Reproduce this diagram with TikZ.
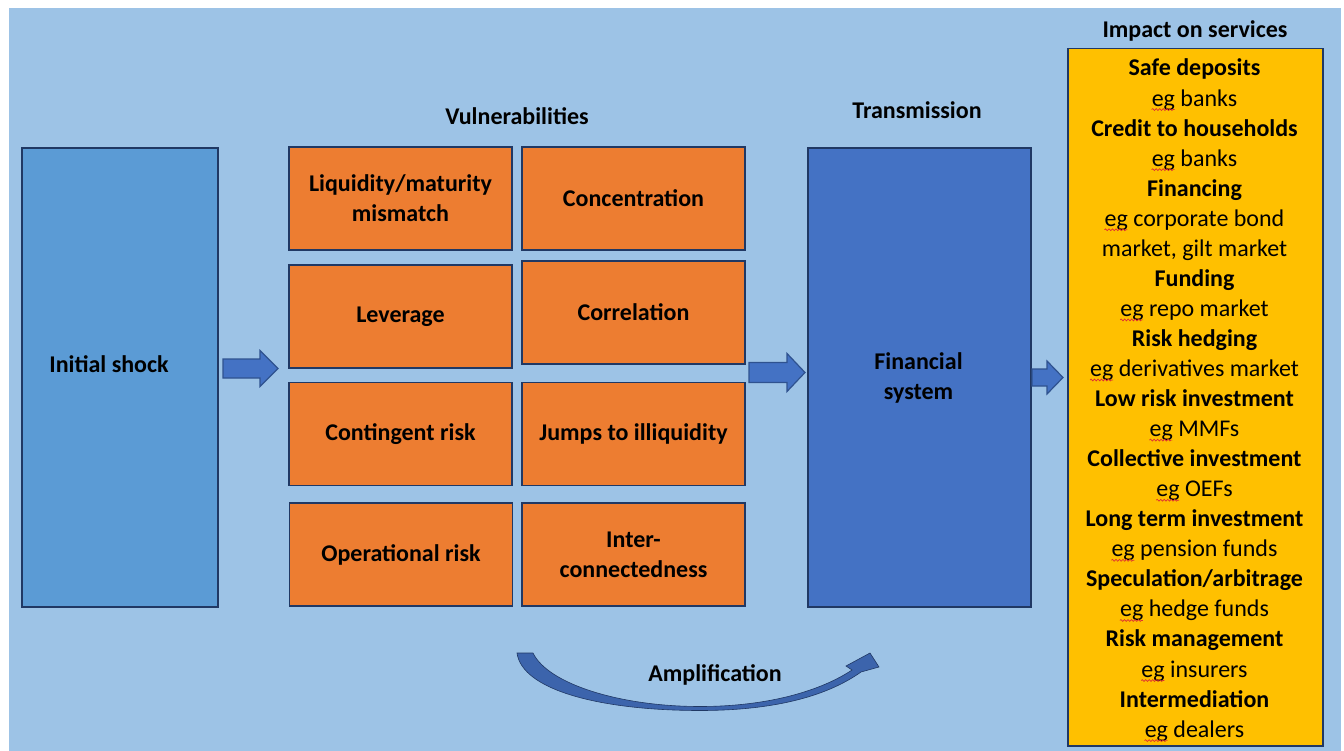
\documentclass[tikz,border=0pt]{standalone}
\usepackage{fontspec}
\setmainfont{Carlito}
\usetikzlibrary{decorations.pathmorphing}

\definecolor{bgblue}{HTML}{9DC3E6}
\definecolor{shockblue}{HTML}{5B9BD5}
\definecolor{vulnorange}{HTML}{ED7D31}
\definecolor{sysblue}{HTML}{4472C4}
\definecolor{svcgold}{HTML}{FFC000}
\definecolor{edgenavy}{HTML}{203864}
\definecolor{arrowedge}{HTML}{2F528F}
\definecolor{squigred}{HTML}{E03030}

\tikzset{
  txt/.style={font=\fontsize{24}{30}\selectfont},
  bold/.style={font=\fontsize{24}{30}\selectfont\bfseries},
  bigbox/.style={draw=edgenavy, line width=2pt, inner sep=0pt},
  vbox/.style={draw=edgenavy, line width=1.5pt, fill=vulnorange, inner sep=0pt,
    align=center, bold, minimum width=223pt, minimum height=103pt},
  blockarrow/.style={draw=arrowedge, line width=1.2pt, fill=sysblue, line join=miter},
  svc/.style={bold, anchor=base, inner sep=0pt},
  ex/.style={txt, anchor=base, inner sep=0pt},
  squig/.style={draw=squigred, line width=0.7pt,
    decorate, decoration={snake, amplitude=0.9pt, segment length=3.5pt}},
}

% block arrow: tail x, centre y, head start x, tip x, half shaft, half head
\newcommand\stagearrow[6]{%
  \draw[blockarrow] (#1,#2-#5) -- (#3,#2-#5) -- (#3,#2-#6) -- (#4,#2)
    -- (#3,#2+#6) -- (#3,#2+#5) -- (#1,#2+#5) -- cycle;}

\begin{document}
\begin{tikzpicture}[x=1pt, y=-1pt]
  \useasboundingbox (0,0) rectangle (1344,751);
  \fill[white] (0,0) rectangle (1344,751);
  \fill[bgblue] (9,8) rectangle (1341,751);

  % shock
  \node[bigbox, fill=shockblue, anchor=north west, minimum width=196pt, minimum height=459pt]
    (shock) at (21,147) {};
  \node[bold, anchor=base] (shocklabel) at (109,372) {Initial shock};

  % vulnerabilities
  \node[bold, anchor=base] (vulntitle) at (517,125) {Vulnerabilities};
  \node[vbox] (liq)  at (400.5,198.5) {Liquidity/maturity\\mismatch};
  \node[vbox] (conc) at (633.5,198.5) {Concentration};
  \node[vbox] (lev)  at (400.5,316.5) {Leverage};
  \node[vbox] (corr) at (633.5,312.5) {Correlation};
  \node[vbox] (cont) at (400.5,434) {Contingent risk};
  \node[vbox] (jump) at (633.5,434) {Jumps to illiquidity};
  \node[vbox] (oper) at (401,554.5) {Operational risk};
  \node[vbox] (inter) at (633.5,554.5) {Inter-\\connectedness};

  % transmission
  \node[bold, anchor=base] (transtitle) at (917,119) {Transmission};
  \node[bigbox, fill=sysblue, anchor=north west, minimum width=223pt, minimum height=459pt]
    (fin) at (807,147) {};
  \node[bold, align=center] (finlabel) at (918.5,378) {Financial\\system};

  % block arrows between the stages
  \stagearrow{223}{368.5}{260}{278}{9.5}{18}
  \stagearrow{749}{372.5}{787}{805}{10}{19}
  \stagearrow{1032}{377.5}{1047}{1063}{8.5}{16.5}

  % amplification loop
  \fill[sysblue!88!black, draw=edgenavy, line width=0.6pt]
    (517,653) -- (533,653)
    .. controls (548,684) and (620,706.5) .. (700,706.5)
    .. controls (770,706.5) and (822,690) .. (852,670)
    -- (846,666) -- (870,653) -- (879,667) -- (861,672)
    .. controls (830,694) and (780,710.5) .. (700,710.5)
    .. controls (600,710.5) and (522,690) .. (517,653) -- cycle;
  \node[bold, anchor=base] (amp) at (715,681) {Amplification};

  % services
  \node[bold, anchor=base] (svctitle) at (1195,38) {Impact on services};
  \node[bigbox, fill=svcgold, line width=1.5pt, anchor=north west, minimum width=255pt,
    minimum height=697pt] (svcbox) at (1067,48) {};

  \node[svc] (s1)  at (1194.5,76)    {Safe deposits};
  \node[ex]  (e1)  at (1194.5,106.05){eg banks};
  \node[svc] (s2)  at (1194.5,136.1) {Credit to households};
  \node[ex]  (e2)  at (1194.5,166.15){eg banks};
  \node[svc] (s3)  at (1194.5,196.2) {Financing};
  \node[ex]  (e3)  at (1194.5,226.25){eg corporate bond};
  \node[ex]  (e3b) at (1194.5,256.3) {market, gilt market};
  \node[svc] (s4)  at (1194.5,286.35){Funding};
  \node[ex]  (e4)  at (1194.5,316.4) {eg repo market};
  \node[svc] (s5)  at (1194.5,346.45){Risk hedging};
  \node[ex]  (e5)  at (1194.5,376.5) {eg derivatives market};
  \node[svc] (s6)  at (1194.5,406.55){Low risk investment};
  \node[ex]  (e6)  at (1194.5,436.6) {eg MMFs};
  \node[svc] (s7)  at (1194.5,466.65){Collective investment};
  \node[ex]  (e7)  at (1194.5,496.7) {eg OEFs};
  \node[svc] (s8)  at (1194.5,526.75){Long term investment};
  \node[ex]  (e8)  at (1194.5,556.8) {eg pension funds};
  \node[svc] (s9)  at (1194.5,586.85){Speculation/arbitrage};
  \node[ex]  (e9)  at (1194.5,616.9) {eg hedge funds};
  \node[svc] (s10) at (1194.5,646.95){Risk management};
  \node[ex]  (e10) at (1194.5,677)   {eg insurers};
  \node[svc] (s11) at (1194.5,707.05){Intermediation};
  \node[ex]  (e11) at (1194.5,737.1) {eg dealers};

  % spell-check marks under "eg"
  \foreach \n in {e1,e2,e3,e4,e5,e6,e7,e8,e9,e10,e11}
    \draw[squig] ([yshift=-3.5pt]\n.base west) -- ++(23,0);
\end{tikzpicture}
\end{document}
